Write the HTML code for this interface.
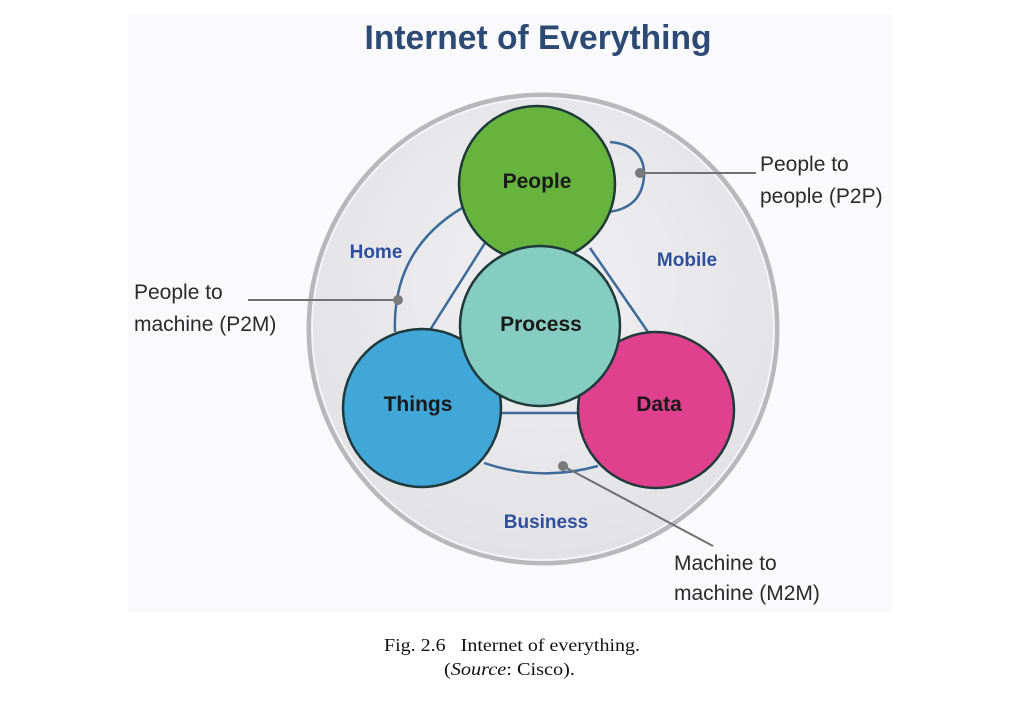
<!DOCTYPE html>
<html><head><meta charset="utf-8"><style>
html,body{margin:0;padding:0;background:#fff;width:1024px;height:712px;overflow:hidden}
svg{display:block}
</style></head><body>
<svg width="1024" height="712" viewBox="0 0 1024 712" xmlns="http://www.w3.org/2000/svg">
<defs>
<radialGradient id="g" cx="50%" cy="40%" r="60%"><stop offset="0" stop-color="#f0f0f2"/><stop offset="1" stop-color="#e2e2e5"/></radialGradient>
</defs>
<rect x="128" y="14" width="764" height="598" fill="#fafafc"/>
<circle cx="543" cy="329" r="234" fill="url(#g)" stroke="#b8b8bc" stroke-width="5"/>
<circle cx="543" cy="329" r="231" fill="none" stroke="#f4f4f6" stroke-width="2"/>
<g fill="none" stroke="#3d6a99" stroke-width="2.5">
<path d="M462 208 Q392 250 395 332"/>
<path d="M610 142 Q645 145 644 176 Q642 208 608 212"/>
<path d="M485 243 L430 330"/>
<path d="M590 248 L648 332"/>
<path d="M500 413 L578 413"/>
<path d="M484 463 Q540 482 598 466"/>
</g>
<g stroke="#707070" stroke-width="2" fill="none">
<line x1="640" y1="173" x2="756" y2="173"/>
<line x1="398" y1="300" x2="248" y2="300"/>
<line x1="563" y1="466" x2="713" y2="546"/>
</g>
<g fill="#7a7a7a"><circle cx="640" cy="173" r="5"/><circle cx="398" cy="300" r="5"/><circle cx="563" cy="466" r="5"/></g>
<g stroke="#1f3a3a" stroke-width="2.5">
<circle cx="537" cy="184" r="78" fill="#66b43e"/>
<circle cx="422" cy="408" r="79" fill="#41a6d8"/>
<circle cx="656" cy="410" r="78" fill="#e0418f"/>
<circle cx="540" cy="326" r="80" fill="#86cdc1"/>
</g>
<g font-family="Liberation Sans, sans-serif" font-size="21" fill="#1a1a1a" text-anchor="middle" font-weight="bold">
<text x="537" y="188">People</text>
<text x="541" y="331">Process</text>
<text x="418" y="411">Things</text>
<text x="659" y="411">Data</text>
</g>
<g font-family="Liberation Sans, sans-serif" font-size="19" fill="#2f4f9e" font-weight="bold" text-anchor="middle">
<text x="376" y="258">Home</text>
<text x="687" y="266">Mobile</text>
<text x="546" y="528">Business</text>
</g>
<text x="538" y="49" font-family="Liberation Sans, sans-serif" font-size="34" font-weight="bold" fill="#2c4a74" text-anchor="middle" textLength="347" lengthAdjust="spacingAndGlyphs">Internet of Everything</text>
<g font-family="Liberation Sans, sans-serif" font-size="21" fill="#2a2a2a">
<text x="760" y="171">People to</text>
<text x="760" y="203">people (P2P)</text>
<text x="134" y="299">People to</text>
<text x="134" y="331">machine (P2M)</text>
<text x="674" y="570">Machine to</text>
<text x="674" y="600">machine (M2M)</text>
</g>
<g font-family="Liberation Serif, serif" font-size="18" fill="#111">
<text x="384" y="651" textLength="256" lengthAdjust="spacingAndGlyphs" xml:space="preserve">Fig. 2.6   Internet of everything.</text>
<text x="444" y="675" textLength="131" lengthAdjust="spacingAndGlyphs">(<tspan font-style="italic">Source</tspan>: Cisco).</text>
</g>
</svg>
</body></html>
